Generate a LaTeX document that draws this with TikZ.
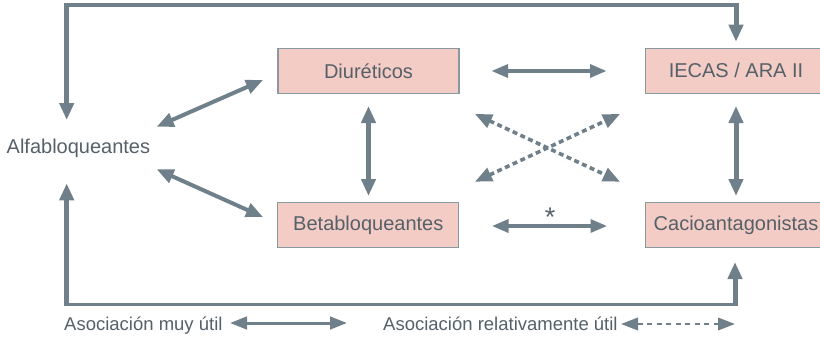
\documentclass[tikz,border=0pt]{standalone}
\usepackage{fontspec}
\setmainfont{Liberation Sans}
\usetikzlibrary{arrows.meta}
\definecolor{acol}{HTML}{6F808A}
\definecolor{boxfill}{HTML}{F3CCC5}
\definecolor{boxline}{HTML}{8A98A2}
\definecolor{tcol}{HTML}{556068}
\begin{document}
\begin{tikzpicture}[x=1pt,y=-1pt,
  bigtip/.tip={Triangle[length=17pt,width=14pt]},
  midtip/.tip={Triangle[length=16.5pt,width=13pt]},
  legtip/.tip={Triangle[length=17pt,width=12.5pt]},
  boxnode/.style={draw=boxline,fill=boxfill,line width=1.1pt,minimum width=181pt,minimum height=45pt,inner sep=0pt,text=tcol,font=\fontsize{20}{24}\selectfont},
  plain/.style={inner sep=0pt,text=tcol,font=\fontsize{20}{24}\selectfont},
  legend/.style={inner sep=0pt,text=tcol,font=\fontsize{18.5}{22}\selectfont},
  frameH/.style={draw=acol,line width=3.5pt},
  frameV/.style={draw=acol,line width=5pt},
  vdbl/.style={draw=acol,line width=5pt,{bigtip}-{bigtip}},
  hdbl/.style={draw=acol,line width=3.3pt,{midtip}-{midtip}},
  ddbl/.style={draw=acol,line width=4pt,{bigtip}-{bigtip}},
  dashdbl/.style={draw=acol,line width=3.6pt,dash pattern=on 5pt off 3.5pt,{bigtip}-{bigtip}},
  legsolid/.style={draw=acol,line width=3pt,{legtip}-{legtip}},
  legdash/.style={draw=acol,line width=2pt,dash pattern=on 5pt off 4.5pt,{legtip}-{legtip}}
]
\useasboundingbox (0,0) rectangle (820,338);

% boxes
\node[boxnode] (diu) at (368.5,70.8) {Diuréticos};
\node[boxnode] (beta) at (368.3,225.3) {Betabloqueantes};
\node[boxnode] (iecas) at (736,70.8) {IECAS / ARA II};
\node[boxnode] (cacio) at (736,225.3) {Cacioantagonistas};
\node[plain,anchor=base west] (alfa) at (6.5,153.3) {Alfabloqueantes};
\node[plain,font=\fontsize{27}{30}\selectfont] (ast) at (550,217) {*};

% legend
\node[legend,anchor=base west] (leg1) at (64,330) {Asociación muy útil};
\node[legend,anchor=base west] (leg2) at (383,330) {Asociación relativamente útil};

% frame coordinates
\coordinate (tL) at (66.7,5);
\coordinate (tR) at (736,5);
\coordinate (alfaTop) at (66.7,120);
\coordinate (iecasTop) at (736,41.7);
\coordinate (bL) at (66.7,304.5);
\coordinate (bR) at (735,304.5);
\coordinate (alfaBot) at (66.7,183.3);
\coordinate (cacioBot) at (735,262);

% top frame
\draw[frameH] ([xshift=-2.5pt]tL) -- ([xshift=2.5pt]tR);
\draw[frameV,-{bigtip}] ([yshift=-1.7pt]tL) -- (alfaTop);
\draw[frameV,-{bigtip}] ([yshift=-1.7pt]tR) -- (iecasTop);
% bottom frame
\draw[frameH,line width=3.8pt] ([xshift=-2.5pt]bL) -- ([xshift=2.5pt]bR);
\draw[frameV,-{bigtip}] ([yshift=1.9pt]bL) -- (alfaBot);
\draw[frameV,-{bigtip}] ([yshift=1.9pt]bR) -- (cacioBot);

% connector coordinates
\coordinate (a1) at (156.7,126.7);
\coordinate (d1) at (263,80);
\coordinate (a2) at (156.7,169.3);
\coordinate (b2) at (263,217);
\coordinate (dv1) at (368.5,106);
\coordinate (dv2) at (368.5,196);
\coordinate (iv1) at (736,106);
\coordinate (iv2) at (736,196);
\coordinate (h1a) at (491.5,71);
\coordinate (h1b) at (606.5,71);
\coordinate (h2a) at (492,226);
\coordinate (h2b) at (607,226);
\coordinate (xUL) at (475,114);
\coordinate (xLR) at (620,181.7);
\coordinate (xUR) at (620,114);
\coordinate (xLL) at (475,181.7);
\coordinate (l1a) at (230,323);
\coordinate (l1b) at (347,323);
\coordinate (l2a) at (621,324);
\coordinate (l2b) at (735,324);

\draw[ddbl] (a1) -- (d1);
\draw[ddbl] (a2) -- (b2);
\draw[vdbl] (dv1) -- (dv2);
\draw[vdbl] (iv1) -- (iv2);
\draw[hdbl] (h1a) -- (h1b);
\draw[hdbl] (h2a) -- (h2b);
\draw[dashdbl] (xUL) -- (xLR);
\draw[dashdbl] (xLL) -- (xUR);
\draw[legsolid] (l1a) -- (l1b);
\draw[legdash] (l2a) -- (l2b);
\end{tikzpicture}
\end{document}
